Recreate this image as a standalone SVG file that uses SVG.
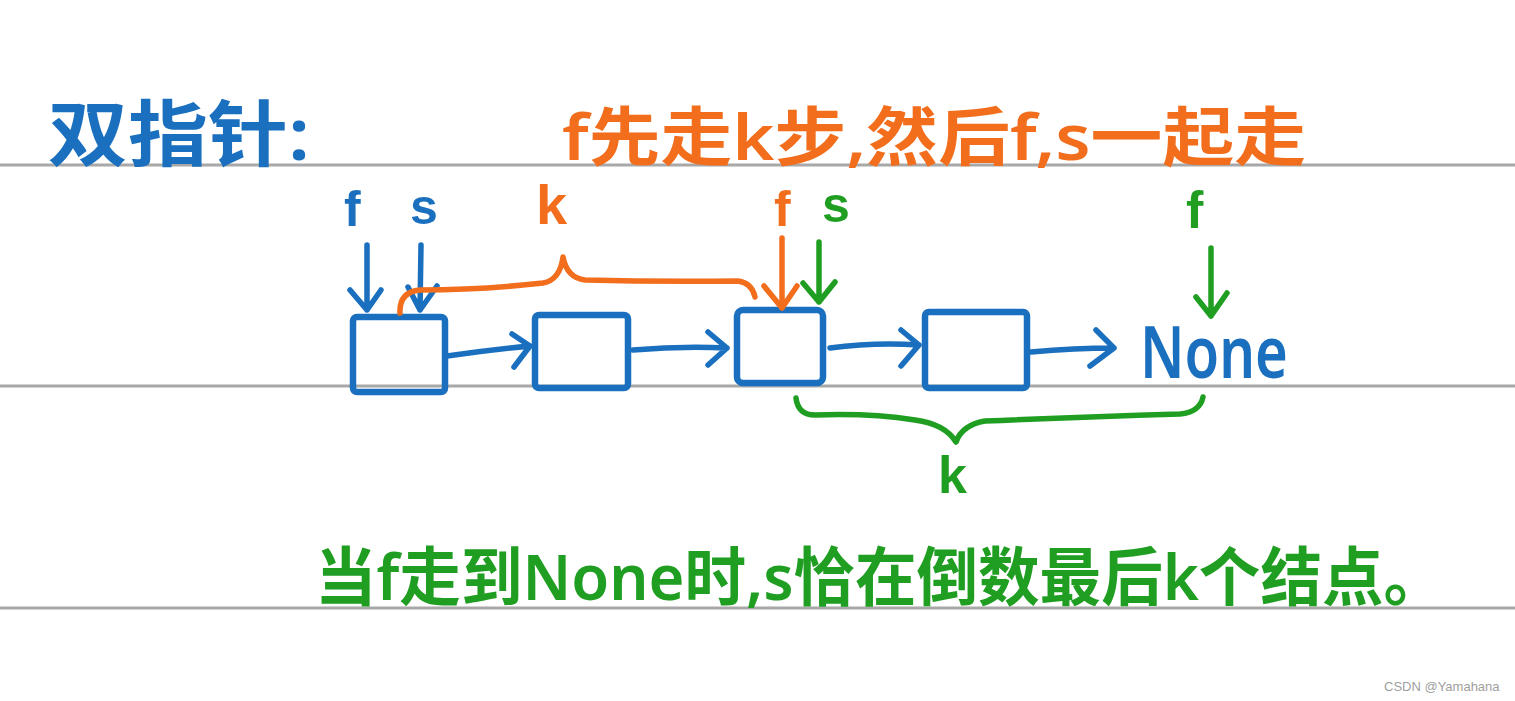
<svg xmlns="http://www.w3.org/2000/svg" width="1515" height="701" viewBox="0 0 1515 701">
<style>
.t{font-family:"Noto Sans","Noto Sans CJK SC",sans-serif;font-weight:600}
.l{font-family:"Liberation Sans",Arial,sans-serif;font-weight:700}
.b{fill:#1a6fbe}.o{fill:#f26e1d}.g{fill:#1f9e22}
.box{fill:none;stroke:#1a6fbe;stroke-width:6.5;stroke-linejoin:round}
.ln{fill:none;stroke-width:5.5;stroke-linecap:round;stroke-linejoin:round}
.sb{stroke:#1a6fbe}.so{stroke:#f26e1d}.sg{stroke:#1f9e22}
.rule{stroke:#a8a8a8;stroke-width:3}
</style>
<rect width="1515" height="701" fill="#ffffff"/>
<g id="rules">
<line class="rule" x1="0" y1="165" x2="1515" y2="165"/>
<line class="rule" x1="0" y1="386" x2="1515" y2="386"/>
<line class="rule" x1="0" y1="608" x2="1515" y2="608"/>
</g>
<g id="title"><text class="t b" x="48" y="160" font-size="72" textLength="262" lengthAdjust="spacingAndGlyphs">双指针:</text></g>
<g id="subtitle"><text class="t o" x="562" y="160" font-size="64" textLength="744" lengthAdjust="spacingAndGlyphs">f先走k步,然后f,s一起走</text></g>
<g id="labels">
<text class="l b" x="344" y="226" font-size="50">f</text>
<text class="l b" x="410" y="224" font-size="50">s</text>
<text class="l o" x="536" y="224" font-size="56">k</text>
<text class="l o" x="774" y="226" font-size="50">f</text>
<text class="l g" x="822" y="222" font-size="50">s</text>
<text class="l g" x="1186" y="228" font-size="52">f</text>
<text class="l g" x="938" y="493" font-size="52">k</text>
</g>
<g id="node1"><rect class="box" x="353" y="317" width="92" height="75" rx="4"/></g>
<g id="node2"><rect class="box" x="535" y="315" width="93" height="73" rx="4"/></g>
<g id="node3"><rect class="box" x="737" y="310" width="86" height="73" rx="6"/></g>
<g id="node4"><rect class="box" x="925" y="312" width="102" height="76" rx="4"/></g>
<g id="none"><text class="t b" x="1140" y="378" font-size="72" font-weight="500" textLength="148" lengthAdjust="spacingAndGlyphs">None</text></g>
<g id="connectors">
<path class="ln sb" d="M447 356 Q490 350 530 346 M512 334 L530 346 L514 367"/>
<path class="ln sb" d="M633 350 Q680 346 727 348 M708 332 L727 348 L708 365"/>
<path class="ln sb" d="M830 348 Q875 342 919 345 M901 330 L919 345 L901 366"/>
<path class="ln sb" d="M1031 352 Q1075 348 1114 348 M1096 330 L1114 348 L1090 366"/>
<path class="ln sb" d="M367 245 L367 310 M350 290 L367 310 L381 290"/>
<path class="ln sb" d="M421 245 L420 310 M408 287 L420 310 L437 286"/>
<path class="ln so" d="M782 238 L782 308 M764 286 L782 308 L797 286"/>
<path class="ln sg" d="M819 242 L819 302 M803 283 L819 302 L835 282"/>
<path class="ln sg" d="M1211 248 L1211 316 M1196 297 L1211 316 L1227 293"/>
<path class="ln so" d="M400 313 Q399 292 420 290 Q480 290 543 283 Q560 280 563 257 Q567 278 585 280 Q660 282 738 281 Q752 283 755 297"/>
<path class="ln sg" d="M796 398 Q798 415 815 415 Q870 413 915 420 Q945 424 956 442 Q962 425 985 421 Q1080 417 1180 414 Q1200 412 1203 397"/>
</g>
<g id="conclusion"><text class="t g" x="315" y="600" font-size="64" textLength="1130" lengthAdjust="spacingAndGlyphs">当f走到None时,s恰在倒数最后k个结点。</text></g>
<g id="watermark"><text x="1384" y="691" font-family="Liberation Sans, Arial, sans-serif" font-size="13" fill="#a0a0a0">CSDN @Yamahana</text></g>
</svg>
